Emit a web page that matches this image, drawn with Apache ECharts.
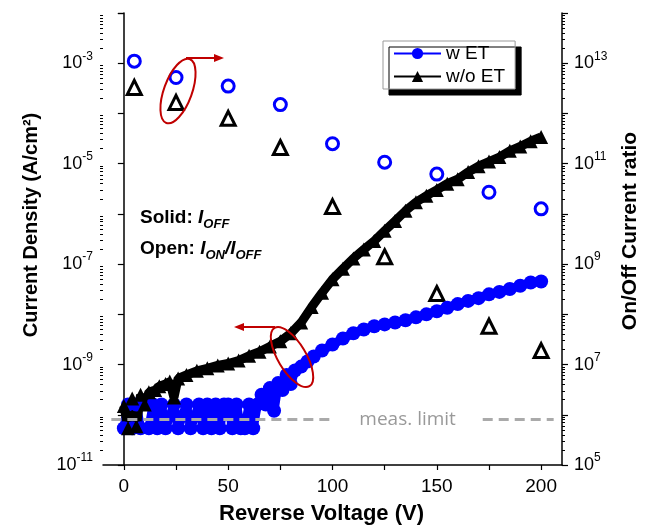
<!DOCTYPE html>
<html>
<head>
<meta charset="utf-8">
<script src="https://cdn.jsdelivr.net/npm/echarts@6/dist/echarts.min.js"></script>
<style>
html, body { margin: 0; padding: 0; background: #fff; }
#main { width: 654px; height: 530px; }
</style>
</head>
<body>
<div id="main"></div>
<script>
// solid symbols: off-state current density (left axis)
var vEt = [0, 2, 4, 6, 8, 12, 14, 16, 18, 20, 24, 26, 30, 32, 36, 38, 40, 42, 44, 46, 48, 50, 52, 54, 56, 58, 60, 62, 64, 66, 68, 70, 72, 74, 76, 78, 80, 82, 85, 88, 91, 95,
  100, 105, 110, 115, 120, 125, 130, 135, 140, 145, 150, 155, 160, 165, 170, 175, 180, 185, 190, 195, 200];
var jEt = [5.4e-11, 1.6e-10, 5.4e-11, 1.6e-10, 5.4e-11, 5.4e-11, 1.6e-10, 5.4e-11, 1.6e-10, 5.4e-11, 1.6e-10, 5.4e-11, 1.6e-10, 5.4e-11, 1.6e-10, 5.4e-11, 1.6e-10, 5.4e-11, 1.6e-10, 5.4e-11, 1.6e-10, 1.6e-10, 5.4e-11, 1.6e-10, 5.4e-11, 5.4e-11, 1.6e-10, 5.4e-11, 1.6e-10, 2.5e-10, 1.6e-10, 3.4e-10, 1.2e-10, 4.3e-10, 3.1e-10, 6.2e-10, 4.1e-10, 7.6e-10, 9.1e-10, 1.15e-9, 1.45e-9, 1.9e-9,
  2.5e-9, 3.3e-9, 4.2e-9, 5.0e-9, 5.8e-9, 6.3e-9, 6.9e-9, 7.6e-9, 8.7e-9, 1.0e-8, 1.15e-8, 1.35e-8, 1.6e-8, 1.85e-8, 2.1e-8, 2.5e-8, 2.8e-8, 3.2e-8, 3.7e-8, 4.3e-8, 4.5e-8];

var vNoEt = [0, 2, 4, 6, 8, 10, 12, 15, 17, 20, 22, 24, 26, 30, 35, 40, 45, 50, 55, 60, 65, 70, 75, 80, 85, 90, 95,
  100, 105, 110, 115, 120, 125, 130, 135, 140, 145, 150, 155, 160, 165, 170, 175, 180, 185, 190, 195, 200];
var jNoEt = [1.5e-10, 5.4e-11, 2.1e-10, 5.9e-11, 2.5e-10, 1.6e-10, 2.8e-10, 3.1e-10, 3.7e-10, 4.1e-10, 4.6e-10, 2.2e-10, 5.3e-10, 6.2e-10, 7.5e-10, 8.4e-10, 9.6e-10, 1.05e-9, 1.2e-9, 1.5e-9, 1.8e-9, 2.3e-9, 2.9e-9, 4.2e-9, 6.9e-9, 1.4e-8, 2.7e-8,
  5.0e-8, 8.1e-8, 1.3e-7, 1.95e-7, 2.9e-7, 4.6e-7, 7.2e-7, 1.15e-6, 1.7e-6, 2.3e-6, 3.0e-6, 4.0e-6, 4.9e-6, 6.8e-6, 8.9e-6, 1.1e-5, 1.35e-5, 1.8e-5, 2.2e-5, 2.8e-5, 3.4e-5];

// open symbols: on/off ratio (right axis)
var vRatio = [5, 25, 50, 75, 100, 125, 150, 175, 200];
var rEt = [1.1e13, 5.2e12, 3.5e12, 1.5e12, 2.5e11, 1.07e11, 6.2e10, 2.7e10, 1.26e10];
var rNoEt = [3.3e12, 1.66e12, 8e11, 2.1e11, 1.4e10, 1.4e9, 2.6e8, 5.8e7, 1.9e7];

var measLimit = 8.2e-11;
var xTicks = [0, 25, 50, 75, 100, 125, 150, 175, 200];
var xLabels = [0, 50, 100, 150, 200];

function pairs(xs, ys) {
  return xs.map(function (x, i) { return [x, ys[i]]; });
}
function minorTicks(lo, hi) {
  var out = [];
  for (var e = lo; e < hi; e++) {
    for (var k = 2; k <= 9; k++) out.push(k * Math.pow(10, e));
  }
  return out;
}
function powLabel(v) {
  var e = Math.round(Math.log10(v));
  if (Math.abs(e) % 2 !== 1) return '';
  return '10{sup|' + e + '}';
}

var FONT = 'Liberation Sans';
var labelStyle = {
  fontFamily: FONT, fontSize: 18, color: '#000', lineHeight: 26,
  rich: { sup: { fontFamily: FONT, fontSize: 12, lineHeight: 12, verticalAlign: 'top', color: '#000' } }
};

var chart = echarts.init(document.getElementById('main'));

var option = {
  animation: false,
  backgroundColor: '#fff',
  grid: { left: 103, right: 92, top: 13, bottom: 63 },
  legend: {
    data: ['w ET', 'w/o ET'],
    orient: 'vertical',
    left: 383, top: 41,
    padding: [3, 10, 3, 10],
    itemGap: 4,
    itemWidth: 47, itemHeight: 14,
    backgroundColor: '#fff',
    borderColor: '#999', borderWidth: 1,
    shadowColor: '#000', shadowBlur: 0, shadowOffsetX: 6, shadowOffsetY: 6,
    lineStyle: { width: 2 },
    textStyle: { fontFamily: FONT, fontSize: 19, color: '#000' }
  },
  xAxis: {
    type: 'value', min: -10, max: 210,
    name: 'Reverse Voltage (V)', nameLocation: 'middle', nameGap: 38,
    nameTextStyle: { fontFamily: FONT, fontWeight: 'bold', fontSize: 22, color: '#000', padding: [0, 22, 0, 0] },
    axisLine: { onZero: false, lineStyle: { color: '#000', width: 1.5 } },
    axisTick: { customValues: xTicks, length: 5, lineStyle: { color: '#000', width: 1.2 } },
    axisLabel: { customValues: xLabels, fontFamily: FONT, fontSize: 19, color: '#000', margin: 12 },
    splitLine: { show: false }
  },
  yAxis: [{
    type: 'log', logBase: 10, min: 1e-11, max: 1e-2, position: 'left',
    name: 'Current Density (A/cm²)', nameLocation: 'middle', nameGap: 62, nameRotate: 90,
    nameTextStyle: { fontFamily: FONT, fontWeight: 'bold', fontSize: 20, color: '#000', padding: [0, 0, 0, 28] },
    axisLine: { show: true, lineStyle: { color: '#000', width: 1.5 } },
    axisTick: { length: 6, lineStyle: { color: '#000', width: 1.2 } },
    axisLabel: Object.assign({ formatter: powLabel, margin: 10 }, labelStyle),
    splitLine: { show: false }
  }, {
    type: 'log', logBase: 10, min: 1e5, max: 1e14, position: 'right',
    name: 'On/Off Current ratio', nameLocation: 'middle', nameGap: 58, nameRotate: 90,
    nameTextStyle: { fontFamily: FONT, fontWeight: 'bold', fontSize: 21, color: '#000', padding: [0, 0, 0, 16] },
    axisLine: { show: true, lineStyle: { color: '#000', width: 1.5 } },
    axisTick: { length: 6, lineStyle: { color: '#000', width: 1.2 } },
    axisLabel: Object.assign({ formatter: powLabel, margin: 12 }, labelStyle),
    splitLine: { show: false }
  }, {
    type: 'log', logBase: 10, min: 1e-11, max: 1e-2, position: 'left',
    axisLine: { show: false },
    axisTick: { customValues: minorTicks(-11, -2), length: 3, lineStyle: { color: '#000', width: 1 } },
    axisLabel: { show: false }, splitLine: { show: false }
  }, {
    type: 'log', logBase: 10, min: 1e5, max: 1e14, position: 'right',
    axisLine: { show: false },
    axisTick: { customValues: minorTicks(5, 14), length: 3, lineStyle: { color: '#000', width: 1 } },
    axisLabel: { show: false }, splitLine: { show: false }
  }],
  series: [{
    name: 'w ET', type: 'line', yAxisIndex: 0,
    data: pairs(vEt, jEt),
    symbol: 'circle', symbolSize: 14, showAllSymbol: true,
    color: '#0000ff',
    lineStyle: { width: 9, color: '#0000ff' },
    itemStyle: { color: '#0000ff' },
    markLine: {
      silent: true, symbol: ['none', 'none'], z: 10,
      label: { show: false },
      lineStyle: { type: [10, 6], color: '#aaaaaa', width: 3 },
      data: [
        [{ coord: [-6, measLimit] }, { coord: [100, measLimit] }],
        [{ coord: [172, measLimit] }, { coord: [206, measLimit] }]
      ]
    }
  }, {
    name: 'w/o ET', type: 'line', yAxisIndex: 0,
    data: pairs(vNoEt, jNoEt),
    symbol: 'triangle', symbolSize: 14, showAllSymbol: true,
    color: '#000',
    lineStyle: { width: 9, color: '#000' },
    itemStyle: { color: '#000' }
  }, {
    name: 'ratio w ET', type: 'scatter', yAxisIndex: 1,
    data: pairs(vRatio, rEt),
    symbol: 'circle', symbolSize: 12,
    itemStyle: { color: '#fff', borderColor: '#0000ff', borderWidth: 3, opacity: 1 }
  }, {
    name: 'ratio w/o ET', type: 'scatter', yAxisIndex: 1,
    data: pairs(vRatio, rNoEt),
    symbol: 'triangle', symbolSize: 14,
    itemStyle: { color: '#fff', borderColor: '#000', borderWidth: 3, opacity: 1 }
  }]
};
chart.setOption(option);

var red = '#c00000';
var lp = chart.convertToPixel({ xAxisIndex: 0, yAxisIndex: 0 }, [136, measLimit]);
var subStyle = { fontFamily: FONT, fontSize: 13, fontWeight: 'bold', fontStyle: 'italic', lineHeight: 13, verticalAlign: 'bottom' };
var itStyle = { fontFamily: FONT, fontSize: 19, fontWeight: 'bold', fontStyle: 'italic', lineHeight: 26 };

chart.setOption({
  graphic: [
    { type: 'ellipse', x: 178, y: 91, rotation: -0.35, z: 100,
      shape: { cx: 0, cy: 0, rx: 14, ry: 34 },
      style: { fill: 'none', stroke: red, lineWidth: 2 } },
    { type: 'polyline', z: 100, shape: { points: [[186, 58], [216, 58]] }, style: { stroke: red, lineWidth: 2 } },
    { type: 'polygon', z: 100, shape: { points: [[224, 58], [214, 54], [214, 62]] }, style: { fill: red } },
    { type: 'ellipse', x: 292, y: 357, rotation: 0.54, z: 100,
      shape: { cx: 0, cy: 0, rx: 14, ry: 34 },
      style: { fill: 'none', stroke: red, lineWidth: 2 } },
    { type: 'polyline', z: 100, shape: { points: [[275, 327], [242, 327]] }, style: { stroke: red, lineWidth: 2 } },
    { type: 'polygon', z: 100, shape: { points: [[234, 327], [244, 323], [244, 331]] }, style: { fill: red } },
    { type: 'text', x: 140, y: 218, z: 100,
      style: { text: 'Solid: {i|I}{sub|OFF}', fontFamily: FONT, fontSize: 19, fontWeight: 'bold', lineHeight: 26,
        fill: '#000', verticalAlign: 'middle', rich: { i: itStyle, sub: subStyle } } },
    { type: 'text', x: 140, y: 249, z: 100,
      style: { text: 'Open: {i|I}{sub|ON}{i|/I}{sub|OFF}', fontFamily: FONT, fontSize: 19, fontWeight: 'bold', lineHeight: 26,
        fill: '#000', verticalAlign: 'middle', rich: { i: itStyle, sub: subStyle } } },
    { type: 'text', x: lp[0], y: lp[1], z: 100,
      style: { text: 'meas. limit', fontFamily: 'Open Sans', fontSize: 19, fill: '#999',
        align: 'center', verticalAlign: 'middle' } }
  ]
});
</script>
</body>
</html>
